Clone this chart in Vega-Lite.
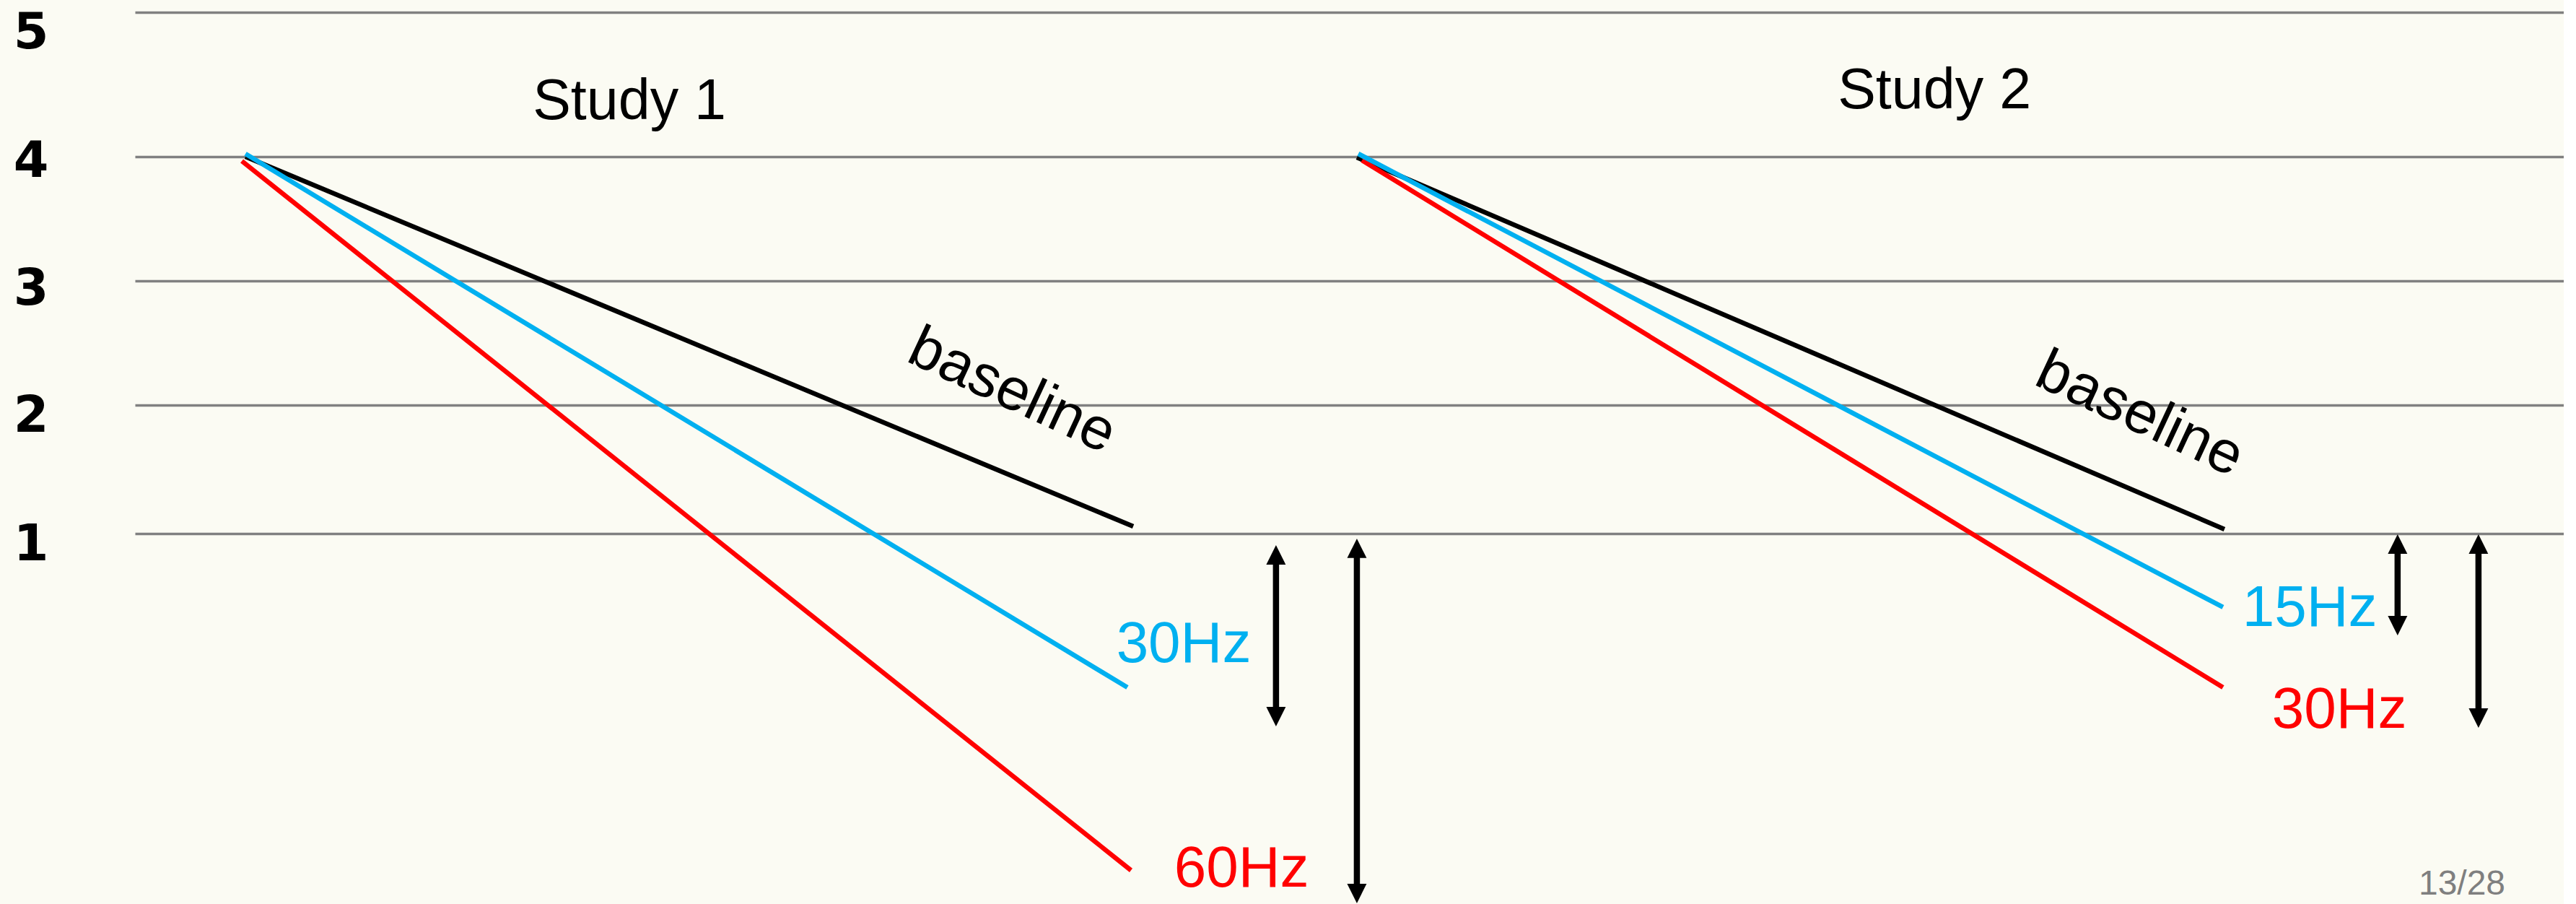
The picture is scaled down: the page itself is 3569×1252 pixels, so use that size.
{
  "$schema": "https://vega.github.io/schema/vega-lite/v6.json",
  "background": "#FBFBF3",
  "autosize": {"type": "none"},
  "padding": {"left": 187, "top": 0, "right": 0, "bottom": 0},
  "width": 3365,
  "height": 1252,
  "config": {"view": {"stroke": null}},
  "datasets": {
    "lines": [
      {"study": "Study 1", "rate": "baseline", "x": 4.55, "y": 4.0},
      {"study": "Study 1", "rate": "baseline", "x": 41.10, "y": 1.056},
      {"study": "Study 1", "rate": "higher", "x": 4.40, "y": 3.965},
      {"study": "Study 1", "rate": "higher", "x": 41.01, "y": -1.62},
      {"study": "Study 1", "rate": "lower", "x": 4.55, "y": 4.02},
      {"study": "Study 1", "rate": "lower", "x": 40.86, "y": -0.197},
      {"study": "Study 2", "rate": "baseline", "x": 50.31, "y": 3.994},
      {"study": "Study 2", "rate": "baseline", "x": 86.03, "y": 1.034},
      {"study": "Study 2", "rate": "higher", "x": 50.52, "y": 3.971},
      {"study": "Study 2", "rate": "higher", "x": 85.97, "y": -0.197},
      {"study": "Study 2", "rate": "lower", "x": 50.37, "y": 4.02},
      {"study": "Study 2", "rate": "lower", "x": 85.97, "y": 0.427}
    ],
    "hz": [
      {"study": "Study 1", "rate": "lower", "label": "30Hz", "x": 43.18, "y": 0.0},
      {"study": "Study 1", "rate": "higher", "label": "60Hz", "x": 45.56, "y": -1.747},
      {"study": "Study 2", "rate": "lower", "label": "15Hz", "x": 89.54, "y": 0.281},
      {"study": "Study 2", "rate": "higher", "label": "30Hz", "x": 90.76, "y": -0.511}
    ],
    "titles": [
      {"label": "Study 1", "x": 20.36, "y": 4.26},
      {"label": "Study 2", "x": 74.09, "y": 4.335}
    ],
    "baselines": [
      {"label": "baseline", "x": 36.12, "y": 2.115},
      {"label": "baseline", "x": 82.55, "y": 1.93}
    ],
    "page": [
      {"label": "13/28", "x": 95.81, "y": -1.866}
    ],
    "arrows": [
      {"study": "Study 1", "x": 46.98, "y": 0.910, "y2": -0.5},
      {"study": "Study 1", "x": 50.31, "y": 0.961, "y2": -1.876},
      {"study": "Study 2", "x": 93.16, "y": 0.994, "y2": 0.208},
      {"study": "Study 2", "x": 96.49, "y": 0.994, "y2": -0.511}
    ]
  },
  "encoding": {
    "x": {"field": "x", "type": "quantitative", "scale": {"domain": [0, 100], "nice": false, "zero": false}, "axis": null},
    "y": {
      "field": "y", "type": "quantitative",
      "scale": {"domain": [-2, 1, 2, 3, 4, 5], "range": [1273, 739, 561, 389, 217, 17], "nice": false, "zero": false},
      "axis": {
        "values": [1, 2, 3, 4, 5],
        "title": null,
        "grid": true,
        "gridColor": "#808080",
        "gridWidth": 3.5,
        "gridOpacity": 1,
        "domain": false,
        "ticks": false,
        "labelFont": "DejaVu Sans",
        "labelFontWeight": "bold",
        "labelFontSize": 70,
        "labelColor": "#000000",
        "labelPadding": 120,
        "labelBaseline": "alphabetic",
        "labelOffset": {"condition": [
          {"test": "datum.value === 5", "value": 49},
          {"test": "datum.value === 4", "value": 27},
          {"test": "datum.value === 3", "value": 32}
        ], "value": 36}
      }
    }
  },
  "layer": [
    {
      "data": {"name": "lines"},
      "mark": {"type": "line", "strokeWidth": 6.5},
      "encoding": {
        "color": {"field": "rate", "type": "nominal", "scale": {"domain": ["baseline", "lower", "higher"], "range": ["#000000", "#00B0F0", "#FF0000"]}, "legend": null},
        "detail": {"field": "study"}
      }
    },
    {
      "data": {"name": "arrows"},
      "mark": {"type": "rule", "strokeWidth": 8.5, "color": "#000000", "yOffset": 20, "y2Offset": -20},
      "encoding": {"y2": {"field": "y2"}}
    },
    {
      "data": {"name": "arrows"},
      "transform": [{"fold": ["y", "y2"], "as": ["end", "y"]}],
      "mark": {"type": "point", "filled": true, "size": 2900, "color": "#000000", "opacity": 1, "strokeWidth": 0},
      "encoding": {
        "shape": {"field": "end", "type": "nominal", "scale": {"domain": ["y", "y2"], "range": ["M0,0L-0.5,1L0.5,1Z", "M0,0L-0.5,-1L0.5,-1Z"]}, "legend": null}
      }
    },
    {
      "data": {"name": "hz"},
      "mark": {"type": "text", "font": "Liberation Sans", "fontSize": 80, "align": "center", "baseline": "alphabetic"},
      "encoding": {
        "text": {"field": "label"},
        "color": {"field": "rate", "type": "nominal", "scale": {"domain": ["baseline", "lower", "higher"], "range": ["#000000", "#00B0F0", "#FF0000"]}, "legend": null}
      }
    },
    {
      "data": {"name": "titles"},
      "mark": {"type": "text", "font": "Liberation Sans", "fontSize": 79, "align": "center", "baseline": "alphabetic", "color": "#000000"},
      "encoding": {"text": {"field": "label"}}
    },
    {
      "data": {"name": "baselines"},
      "mark": {"type": "text", "font": "Liberation Sans", "fontSize": 82, "align": "center", "baseline": "middle", "angle": 25, "color": "#000000"},
      "encoding": {"text": {"field": "label"}}
    },
    {
      "data": {"name": "page"},
      "mark": {"type": "text", "font": "Liberation Sans", "fontSize": 48, "align": "center", "baseline": "bottom", "color": "#7F7F7F"},
      "encoding": {"text": {"field": "label"}}
    }
  ]
}
